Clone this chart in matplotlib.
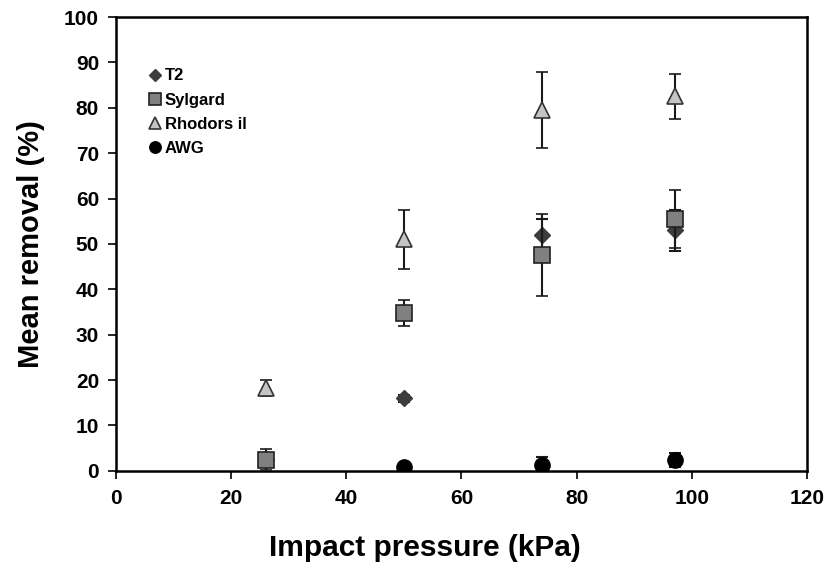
import matplotlib
matplotlib.use("Agg")
import matplotlib.pyplot as plt
import numpy as np

plt.rcParams['font.family'] = ['Liberation Sans', 'DejaVu Sans']

pressure = [26, 50, 74, 97]
t2 = [2.5, 16.0, 52.0, 53.0]
t2_err = [1.0, 0.8, 3.5, 4.5]
sylgard = [2.5, 34.8, 47.5, 55.5]
sylgard_err = [2.3, 2.8, 9.0, 6.4]
rhodorsil = [18.3, 51.0, 79.5, 82.5]
rhodorsil_err = [1.7, 6.5, 8.3, 5.0]
awg = [np.nan, 0.9, 1.3, 2.4]
awg_err = [np.nan, 0.3, 1.7, 1.6]

fig = plt.figure(figsize=(8.33, 5.68), dpi=100)
ax = fig.add_axes([0.139, 0.171, 0.830, 0.799])

ekw = dict(ecolor='#1a1a1a', elinewidth=1.5, capsize=4.5, capthick=1.5, linestyle='none')
ax.errorbar(pressure, t2, yerr=t2_err, marker='D', markersize=8, color='#3d3d3d',
            mec='#3d3d3d', label='T2', zorder=3, **ekw)
ax.errorbar(pressure, sylgard, yerr=sylgard_err, marker='s', markersize=11, color='#808080',
            mec='#222222', mew=1.2, label='Sylgard', zorder=4, **ekw)
ax.errorbar(pressure, rhodorsil, yerr=rhodorsil_err, marker='^', markersize=12, color='#c4c4c4',
            mec='#333333', mew=1.2, label='Rhodors il', zorder=4, **ekw)
ax.errorbar(pressure, awg, yerr=awg_err, marker='o', markersize=11, color='black',
            mec='black', label='AWG', zorder=5, **ekw)

ax.set_xlim(0, 120)
ax.set_ylim(0, 100)
ax.set_xticks(range(0, 121, 20))
ax.set_yticks(range(0, 101, 10))
ax.tick_params(axis='both', direction='out', length=6, width=1.2, labelsize=15)
ax.tick_params(axis='x', pad=7)
ax.tick_params(axis='y', pad=6)
for lab in ax.get_xticklabels() + ax.get_yticklabels():
    lab.set_fontweight('bold')
for sp in ax.spines.values():
    sp.set_linewidth(1.8)

ax.set_xlabel('Impact pressure (kPa)', fontsize=21.5, fontweight='bold')
ax.xaxis.set_label_coords(0.447, -0.14)
ax.set_ylabel('Mean removal (%)', fontsize=21, fontweight='bold', labelpad=14)

handles, labels = ax.get_legend_handles_labels()
handles = [h[0] for h in handles]
leg = ax.legend(handles, labels, loc='upper left', bbox_to_anchor=(0.02, 0.92), frameon=False,
                prop={'weight': 'bold', 'size': 12}, handletextpad=0.0, handlelength=1.2,
                labelspacing=0.55, markerscale=0.75)

fig.savefig('out.png', dpi=100)
